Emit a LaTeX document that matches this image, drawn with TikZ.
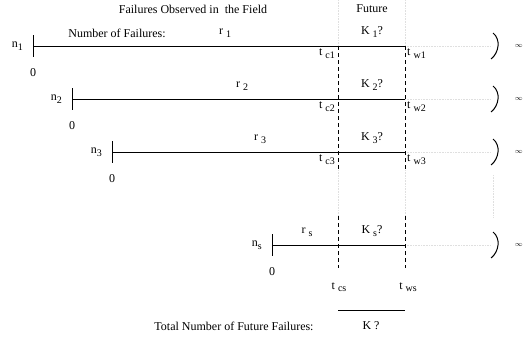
\documentclass[tikz,border=0pt]{standalone}
\usepackage{fontspec}
\setmainfont{Liberation Serif}
\usetikzlibrary{positioning}

\newcommand{\lowidx}[1]{\raisebox{-0.45ex}{\fontsize{10}{12}\selectfont #1}}

\begin{document}
\begin{tikzpicture}[
  x=1pt,y=-1pt,
  every node/.style={font=\fontsize{12}{14}\selectfont,inner sep=1pt},
  timeline/.style={line width=1pt},
  origintick/.style={line width=1pt},
  cutline/.style={line width=0.9pt,dash pattern=on 4pt off 3pt},
  faint/.style={gray!25,line width=0.8pt,dash pattern=on 0.8pt off 0.8pt},
  paren/.style={line width=1pt},
  infty/.style={font=\scriptsize,inner sep=0pt}
]
\useasboundingbox (0,0) rectangle (524,346);

%--------------------
% headings
%--------------------
\node (obs) at (193,9) {Failures Observed in\ \ the Field};
\node (fut) at (372,9) {Future};
\node (nof) at (117,33) {Number of Failures:};

%--------------------
% unit 1
%--------------------
\coordinate (s1) at (33,46);
\coordinate (c1) at (338,46);
\coordinate (w1) at (405,46);
\coordinate (p1) at (491,46);
\draw[timeline] (s1) -- (w1);
\draw[origintick] ([yshift=11pt]s1) -- ([yshift=-11pt]s1);
\node[left=9pt of s1] (n1) {n\lowidx{1}};
\node[below=21pt of s1] (z1) {0};
\node (r1) at (225,33) {r \lowidx{1}};
\node (k1) at (372,32) {K \lowidx{1}?};
\node[anchor=north east] (tc1) at (336,48) {t \lowidx{c1}};
\node[anchor=north west] (tw1) at (406,48) {t \lowidx{w1}};
\draw[faint] (w1) -- (p1);
\draw[paren] ([shift={(2,-13)}]p1) .. controls +(8,6) and +(8,-6) .. ([shift={(0,13)}]p1);
\node[infty,anchor=east] (inf1) at (523,46) {$\infty$};

%--------------------
% unit 2
%--------------------
\coordinate (s2) at (72,99);
\coordinate (c2) at (338,99);
\coordinate (w2) at (405,99);
\coordinate (p2) at (491,99);
\draw[timeline] (s2) -- (w2);
\draw[origintick] ([yshift=11pt]s2) -- ([yshift=-11pt]s2);
\node[left=9pt of s2] (n2) {n\lowidx{2}};
\node[below=21pt of s2] (z2) {0};
\node (r2) at (242,86) {r \lowidx{2}};
\node (k2) at (372,85) {K \lowidx{2}?};
\node[anchor=north east] (tc2) at (336,101) {t \lowidx{c2}};
\node[anchor=north west] (tw2) at (406,101) {t \lowidx{w2}};
\draw[faint] (w2) -- (p2);
\draw[paren] ([shift={(2,-13)}]p2) .. controls +(8,6) and +(8,-6) .. ([shift={(0,13)}]p2);
\node[infty,anchor=east] (inf2) at (523,99) {$\infty$};

%--------------------
% unit 3
%--------------------
\coordinate (s3) at (112,152);
\coordinate (c3) at (338,152);
\coordinate (w3) at (405,152);
\coordinate (p3) at (491,152);
\draw[timeline] (s3) -- (w3);
\draw[origintick] ([yshift=11pt]s3) -- ([yshift=-11pt]s3);
\node[left=9pt of s3] (n3) {n\lowidx{3}};
\node[below=21pt of s3] (z3) {0};
\node (r3) at (260,139) {r \lowidx{3}};
\node (k3) at (372,138) {K \lowidx{3}?};
\node[anchor=north east] (tc3) at (336,154) {t \lowidx{c3}};
\node[anchor=north west] (tw3) at (406,154) {t \lowidx{w3}};
\draw[faint] (w3) -- (p3);
\draw[paren] ([shift={(2,-13)}]p3) .. controls +(8,6) and +(8,-6) .. ([shift={(0,13)}]p3);
\node[infty,anchor=east] (inf3) at (523,152) {$\infty$};

%--------------------
% unit s
%--------------------
\coordinate (ss) at (272,245);
\coordinate (cs) at (338,245);
\coordinate (ws) at (405,245);
\coordinate (ps) at (491,245);
\draw[timeline] (ss) -- (ws);
\draw[origintick] ([yshift=11pt]ss) -- ([yshift=-11pt]ss);
\node[left=9pt of ss] (ns) {n\lowidx{s}};
\node[below=21pt of ss] (zs) {0};
\node (rs) at (307,232) {r \lowidx{s}};
\node (ks) at (372,231) {K \lowidx{s}?};
\node (tcs) at (339,287) {t \lowidx{cs}};
\node (tws) at (408,287) {t \lowidx{ws}};
\draw[faint] (ws) -- (ps);
\draw[paren] ([shift={(2,-13)}]ps) .. controls +(8,6) and +(8,-6) .. ([shift={(0,13)}]ps);
\node[infty,anchor=east] (infs) at (523,245) {$\infty$};

%--------------------
% censoring and window times
%--------------------
\coordinate (ctop) at (338,0);
\coordinate (cgap) at (338,170);
\coordinate (cres) at (338,216);
\coordinate (cend) at (338,268);
\coordinate (wtop) at (405,0);
\coordinate (wgap) at (405,170);
\coordinate (wres) at (405,216);
\coordinate (wend) at (405,268);
\draw[faint] (ctop) -- (c1);
\draw[cutline] (c1) -- (cgap);
\draw[faint] (cgap) -- (cres);
\draw[cutline] (cres) -- (cend);
\draw[faint] (wtop) -- (w1);
\draw[cutline] (w1) -- (wgap);
\draw[faint] (wgap) -- (wres);
\draw[cutline] (wres) -- (wend);

% dots between the units
\coordinate (dtop) at (493,175);
\coordinate (dend) at (493,218);
\draw[faint] (dtop) -- (dend);

%--------------------
% total
%--------------------
\coordinate (kl) at (338,310);
\coordinate (kr) at (405,310);
\draw[timeline] (kl) -- (kr);
\node (tot) at (234,326) {Total Number of Future Failures:};
\node (ktot) at (371,326) {K ?};

\end{tikzpicture}
\end{document}
